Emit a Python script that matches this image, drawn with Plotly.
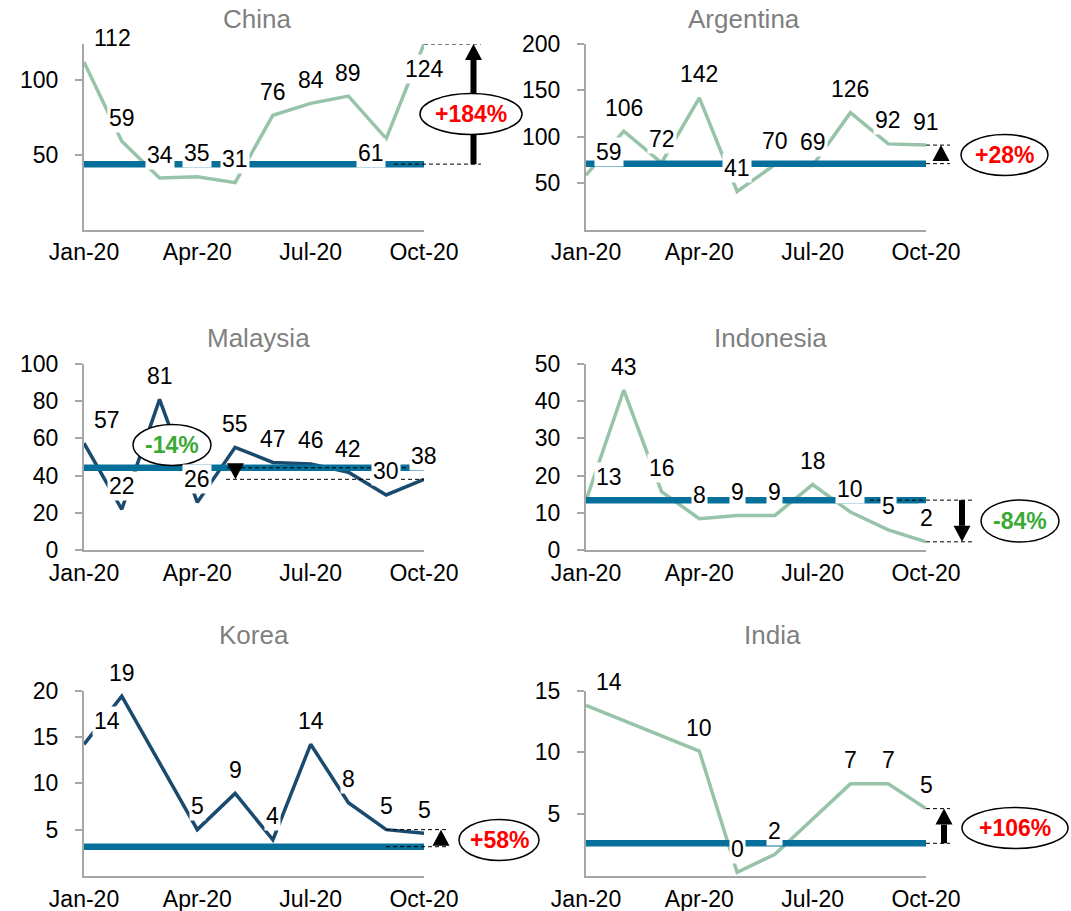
import plotly.graph_objects as go

W, H = 1071, 911

# ---- data -------------------------------------------------------------
months = ["Jan-20", "Feb-20", "Mar-20", "Apr-20", "May-20",
          "Jun-20", "Jul-20", "Aug-20", "Sep-20", "Oct-20"]
tick_months = ["Jan-20", "Apr-20", "Jul-20", "Oct-20"]

countries = ["China", "Argentina", "Malaysia", "Indonesia", "Korea", "India"]

china = [112, 59, 34.4, 35.2, 31.3, 76.4, 84.3, 89.2, 60.8, 124]
argentina = [58.6, 106, 72, 142, 41, 70, 69, 126, 92.3, 91]
malaysia = [57.4, 21.9, 81, 25.6, 55.2, 47.1, 46.3, 41.8, 29.6, 38]
indonesia = [13.3, 43, 15.7, 8.4, 9.3, 9.3, 17.6, 10.2, 5.4, 2.2]
korea = [14.2, 19.4, None, 5.0, 8.9, 3.9, 14.2, 7.9, 5.0, 4.6]
india = [13.8, None, None, 10.1, 0.3, 1.75, None, 7.45, 7.45, 5.45]

# reference level of each market and the latest level it is compared with
baselines = [43.7, 71, 44.2, 13.4, 3.16, 2.645]
latest = [124, 91, 38, 2.2, 5.0, 5.45]

y_ranges = [(0, 124), (0, 200), (0, 100), (0, 50), (0, 20), (0, 15)]
y_ticks = [[50, 100], [50, 100, 150, 200], [0, 20, 40, 60, 80, 100],
           [0, 10, 20, 30, 40, 50], [5, 10, 15, 20], [5, 10, 15]]

series = [china, argentina, malaysia, indonesia, korea, india]

# ---- styling ----------------------------------------------------------
FONT = "Liberation Sans, Arial, sans-serif"
GREEN_LINE = "#97C4A9"
NAVY_LINE = "#1A4A6E"
BASE_BLUE = "#06709A"
AXIS_GREY = "#A6A6A6"
TITLE_GREY = "#7F7F7F"
UP_RED = "#FF0000"
DOWN_GREEN = "#3AAA35"

line_colors = [GREEN_LINE, GREEN_LINE, NAVY_LINE, GREEN_LINE, NAVY_LINE, GREEN_LINE]

# plot frames in pixels: left, right, top, bottom
frames = [(84, 424, 44, 229.5), (586, 926, 44, 229.5),
          (84, 424, 364, 550), (586, 926, 364, 550),
          (84, 424, 690.5, 876), (586, 926, 690.5, 876)]
title_pos = [(257, 19), (744, 19), (258, 338), (770, 338), (254, 635), (772, 635)]

# change call-outs: oval (cx, cy, w, h), arrow x, dashed guide extents
callouts = [
    dict(oval=(471, 114, 102, 41), arrow_x=473.5, end_dash=(424, 481), base_dash=(394, 481)),
    dict(oval=(1004.5, 155, 87, 41), arrow_x=941, end_dash=(926, 950), base_dash=(926, 950)),
    dict(oval=(172, 445, 78, 41), arrow_x=235.4, end_dash=(226, 424), base_dash=(227, 424)),
    dict(oval=(1020, 521, 78, 42), arrow_x=962, end_dash=(926, 975), base_dash=(870, 975)),
    dict(oval=(499, 840, 80, 41), arrow_x=441, end_dash=(386, 448), base_dash=(386, 448)),
    dict(oval=(1015, 828, 106, 41), arrow_x=944, end_dash=(926, 950), base_dash=(926, 950)),
]

# individual data-label placements that differ from "above the point"
label_overrides = {
    ("China", 8): dict(xanchor="right", xshift=0, yshift=-14),
    ("China", 9): dict(xanchor="center", xshift=0, yshift=-24.5),
}

HEAD_LEN = 16
HEAD_HALF = 8.5
SHAFT_W = 6

fig = go.Figure()
shapes = []
annotations = []
layout_axes = {}

for k, name in enumerate(countries):
    n = k + 1
    xa = "x" if n == 1 else f"x{n}"
    ya = "y" if n == 1 else f"y{n}"
    left, right, top, bottom = frames[k]
    vals = series[k]
    base = baselines[k]
    end = latest[k]
    y0, y1 = y_ranges[k]
    ppu = (bottom - top) / (y1 - y0)  # pixels per data unit

    fig.add_trace(go.Scatter(
        x=months, y=vals, mode="lines", connectgaps=True,
        line=dict(color=line_colors[k], width=3.5),
        xaxis=xa, yaxis=ya, showlegend=False, hoverinfo="skip"))
    fig.add_trace(go.Scatter(
        x=months, y=[base] * len(months), mode="lines",
        line=dict(color=BASE_BLUE, width=6.5),
        xaxis=xa, yaxis=ya, showlegend=False, hoverinfo="skip"))

    layout_axes["xaxis" if n == 1 else f"xaxis{n}"] = dict(
        domain=[left / W, right / W], anchor=ya, type="category",
        categoryorder="array", categoryarray=months, range=[0, len(months) - 1],
        tickmode="array", tickvals=tick_months, ticktext=tick_months,
        showline=True, linecolor=AXIS_GREY, linewidth=2, ticks="",
        showgrid=False, zeroline=False, ticklabelstandoff=1, automargin=False,
        tickfont=dict(family=FONT, size=23, color="black"))
    layout_axes["yaxis" if n == 1 else f"yaxis{n}"] = dict(
        domain=[1 - bottom / H, 1 - top / H], anchor=xa, range=[y0, y1],
        tickmode="array", tickvals=y_ticks[k],
        ticks="outside", ticklen=7, tickwidth=2, tickcolor=AXIS_GREY,
        showline=True, linecolor=AXIS_GREY, linewidth=2,
        showgrid=False, zeroline=False, ticklabelstandoff=12, automargin=False,
        tickfont=dict(family=FONT, size=23, color="black"))

    # data labels on white boxes
    for i, v in enumerate(vals):
        if v is None:
            continue
        spec = dict(xanchor="center", xshift=0, yshift=23.5)
        if i == 0:
            spec = dict(xanchor="left", xshift=8, yshift=23.5)
        spec.update(label_overrides.get((name, i), {}))
        annotations.append(dict(
            x=i, y=v, xref=xa, yref=ya, text=f"{v:.0f}", showarrow=False,
            xanchor=spec["xanchor"], yanchor="middle",
            xshift=spec["xshift"], yshift=spec["yshift"],
            bgcolor="white", borderpad=1,
            font=dict(family=FONT, size=23, color="black")))

    # title
    tx, ty = title_pos[k]
    annotations.append(dict(
        x=tx / W, y=1 - ty / H, xref="paper", yref="paper", text=name,
        showarrow=False, xanchor="center", yanchor="middle",
        font=dict(family=FONT, size=26, color=TITLE_GREY)))

    c = callouts[k]
    # dashed guides at the latest level and at the baseline
    for (xs, xe), lvl in ((c["end_dash"], end), (c["base_dash"], base)):
        shapes.append(dict(
            type="line", xref="paper", yref=ya, x0=xs / W, x1=xe / W, y0=lvl, y1=lvl,
            line=dict(color="black", width=1, dash="4px,3px")))

    # arrow from baseline to the latest level
    ax = c["arrow_x"] / W
    direction = 1 if end > base else -1
    span_px = abs(end - base) * ppu
    head_base = end - direction * HEAD_LEN / ppu
    if span_px > HEAD_LEN + 3:
        shapes.append(dict(
            type="line", xref="paper", yref=ya, x0=ax, x1=ax, y0=base, y1=head_base,
            line=dict(color="black", width=SHAFT_W)))
    hl = (c["arrow_x"] - HEAD_HALF) / W
    hr = (c["arrow_x"] + HEAD_HALF) / W
    shapes.append(dict(
        type="path", xref="paper", yref=ya,
        path=f"M {hl},{head_base} L {hr},{head_base} L {ax},{end} Z",
        fillcolor="black", line=dict(width=0)))

    # oval with the percentage change
    cx, cy, w, h = c["oval"]
    shapes.append(dict(
        type="circle", xref="paper", yref="paper",
        x0=(cx - w / 2) / W, x1=(cx + w / 2) / W,
        y0=1 - (cy + h / 2) / H, y1=1 - (cy - h / 2) / H,
        fillcolor="white", line=dict(color="black", width=1.5)))
    pct = round((end / base - 1) * 100)
    annotations.append(dict(
        x=cx / W, y=1 - cy / H, xref="paper", yref="paper",
        text=f"<b>{pct:+d}%</b>", showarrow=False,
        xanchor="center", yanchor="middle",
        font=dict(family=FONT, size=23, color=UP_RED if pct > 0 else DOWN_GREEN)))

fig.update_layout(
    template="none",
    width=W, height=H, autosize=False,
    margin=dict(l=0, r=0, t=0, b=0, pad=0, autoexpand=False),
    paper_bgcolor="white", plot_bgcolor="white",
    font=dict(family=FONT, size=23, color="black"),
    shapes=shapes, annotations=annotations, **layout_axes)

fig.write_html("out.html")
